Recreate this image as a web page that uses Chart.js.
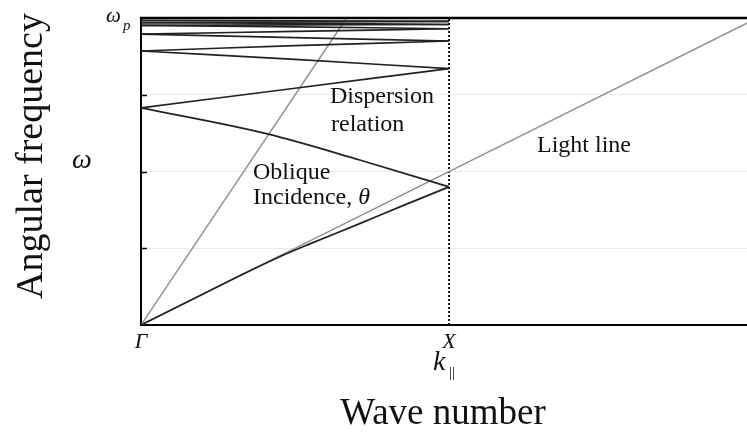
<!DOCTYPE html>
<html>
<head>
<meta charset="utf-8">
<script src="https://cdn.jsdelivr.net/npm/chart.js@4.4.1/dist/chart.umd.min.js"></script>
<style>
  html, body { margin: 0; padding: 0; background: #fff; overflow: hidden; }
  #c { display: block; }
</style>
</head>
<body>
<canvas id="c" width="747" height="434"></canvas>
<script>
// Folded dispersion bands in the first zone (k from Γ=0 to X=1, ω in units where ωp = 4)
const kBand1 = [0, 0.2, 0.35, 0.45, 0.55, 0.7, 0.85, 1.0];
const wBand1 = [0, 0.40, 0.70, 0.89, 1.06, 1.305, 1.555, 1.80];
const kBand2 = [0, 0.41, 0.71, 1.0];
const wBand2 = [2.83, 2.49, 2.15, 1.80];
const kUpper = [0, 0.5, 1];
const wBand3 = [2.83, 3.085, 3.34];
const wBand4 = [3.57, 3.46, 3.34];
const wBand5 = [3.57, 3.64, 3.70];
const wBand6 = [3.79, 3.745, 3.70];
const wBand7 = [3.79, 3.825, 3.86];
const wBand8 = [3.905, 3.885, 3.86];
const wBand9 = [3.905, 3.91, 3.915];
const wBand10 = [3.94, 3.93, 3.915];
const wBand11 = [3.94, 3.948, 3.955];
const wBand12 = [3.97, 3.962, 3.955];

// Light line ω = c·k and an oblique-incidence line
const kLight = [0, 2];
const wLight = [0, 4];
const kOblique = [0, 0.667];
const wOblique = [0, 4];

// Zone edge X
const kEdge = [1, 1];
const wEdge = [0, 4];

// Axis ticks
const xTickValues = [0, 1];
const xTickLabels = ['Γ', 'X'];
const yTickValues = [0, 1, 2, 3, 4];
const kMax = 1.967;
const wMax = 4;

const pts = (k, w) => k.map((x, i) => ({ x, y: w[i] }));

const bandStyle = { borderColor: '#222', borderWidth: 1.7, pointRadius: 0, showLine: true, fill: false };
const upperBands = [wBand3, wBand4, wBand5, wBand6, wBand7, wBand8, wBand9, wBand10, wBand11, wBand12];

const datasets = [
  { ...bandStyle, data: pts(kBand1, wBand1), cubicInterpolationMode: 'monotone', tension: 0.4 },
  { ...bandStyle, data: pts(kBand2, wBand2), cubicInterpolationMode: 'monotone', tension: 0.4 },
  ...upperBands.map(w => ({ ...bandStyle, data: pts(kUpper, w), tension: 0.3 })),
  { data: pts(kLight, wLight), borderColor: '#939393', borderWidth: 1.5, pointRadius: 0, showLine: true },
  { data: pts(kOblique, wOblique), borderColor: '#939393', borderWidth: 1.5, pointRadius: 0, showLine: true },
  { data: pts(kEdge, wEdge), borderColor: '#111', borderWidth: 2, borderDash: [2, 2], pointRadius: 0, showLine: true }
];

const SERIF = "'Liberation Serif', 'DejaVu Serif', serif";

const annotations = {
  id: 'annotations',
  afterDraw(chart) {
    const { ctx, chartArea: a, scales } = chart;
    const y = scales.y;
    ctx.save();
    // top frame line
    ctx.strokeStyle = '#000';
    ctx.lineWidth = 2.5;
    ctx.beginPath();
    ctx.moveTo(a.left - 1, a.top);
    ctx.lineTo(a.right, a.top);
    ctx.stroke();
    // inward tick marks on the ω axis
    ctx.lineWidth = 1.5;
    yTickValues.slice(1, -1).forEach(v => {
      const py = Math.round(y.getPixelForValue(v)) + 0.5;
      ctx.beginPath();
      ctx.moveTo(a.left, py);
      ctx.lineTo(a.left + 6, py);
      ctx.stroke();
    });

    ctx.fillStyle = '#111';
    ctx.textBaseline = 'alphabetic';
    // ωp at the top of the axis
    const pTop = y.getPixelForValue(wMax);
    ctx.textAlign = 'left';
    ctx.font = `italic 21px ${SERIF}`;
    ctx.fillText('ω', 106, pTop + 4);
    ctx.font = `italic 15px ${SERIF}`;
    ctx.fillText('p', 123, pTop + 12);

    // ω symbol beside the axis
    ctx.font = `italic 28px ${SERIF}`;
    ctx.textAlign = 'center';
    ctx.fillText('ω', 82, 168);

    // axis titles
    ctx.font = `38px ${SERIF}`;
    ctx.save();
    ctx.translate(42, 156);
    ctx.rotate(-Math.PI / 2);
    ctx.fillText('Angular frequency', 0, 0);
    ctx.restore();
    ctx.font = `37px ${SERIF}`;
    ctx.fillText('Wave number', 443, 424);

    // k∥ below the X point
    ctx.textAlign = 'left';
    ctx.font = `italic 28px ${SERIF}`;
    ctx.fillText('k', 433, 370);
    ctx.font = `15px ${SERIF}`;
    ctx.fillText('||', 449, 377);

    // in-plot labels
    ctx.font = `24px ${SERIF}`;
    ctx.fillText('Dispersion', 330, 103);
    ctx.fillText('relation', 331, 131);
    ctx.fillText('Oblique', 253, 179);
    ctx.fillText('Incidence, ', 253, 204);
    const wInc = ctx.measureText('Incidence, ').width;
    ctx.font = `italic 24px ${SERIF}`;
    ctx.fillText('θ', 253 + wInc, 204);
    ctx.font = `24px ${SERIF}`;
    ctx.fillText('Light line', 537, 152);
    ctx.restore();
  }
};

new Chart(document.getElementById('c'), {
  type: 'scatter',
  data: { datasets },
  plugins: [annotations],
  options: {
    responsive: false,
    animation: false,
    devicePixelRatio: 1,
    layout: { padding: { top: 18, left: 0, right: 0, bottom: 0 } },
    plugins: { legend: { display: false }, tooltip: { enabled: false } },
    elements: { line: { borderCapStyle: 'butt' } },
    scales: {
      x: {
        type: 'linear',
        min: 0,
        max: kMax,
        afterBuildTicks: s => { s.ticks = xTickValues.map(v => ({ value: v })); },
        afterFit: s => { s.height = 109; },
        ticks: {
          padding: 4,
          color: '#111',
          font: { family: SERIF, size: 22, style: 'italic' },
          callback: v => xTickLabels[xTickValues.indexOf(v)] ?? ''
        },
        grid: { display: false, drawTicks: false },
        border: { display: true, color: '#000', width: 2 }
      },
      y: {
        type: 'linear',
        min: 0,
        max: wMax,
        afterBuildTicks: s => { s.ticks = yTickValues.map(v => ({ value: v })); },
        afterFit: s => { s.width = 141; },
        ticks: { display: false },
        grid: {
          drawTicks: false,
          lineWidth: 1,
          color: c => (c.tick && (c.tick.value === 0 || c.tick.value === wMax)) ? 'rgba(0,0,0,0)' : '#ebebeb'
        },
        border: { display: true, color: '#000', width: 2 }
      }
    }
  }
});
</script>
</body>
</html>
